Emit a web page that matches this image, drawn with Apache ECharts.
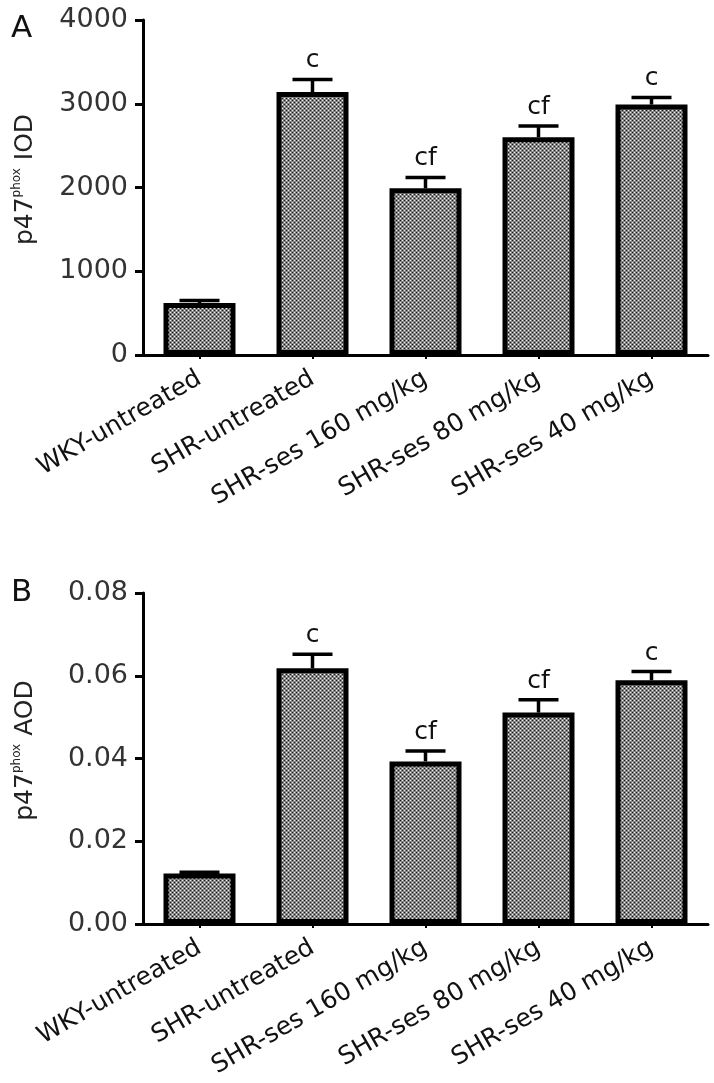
<!DOCTYPE html>
<html>
<head>
<meta charset="utf-8">
<script src="https://cdn.jsdelivr.net/npm/echarts@6/dist/echarts.min.js"></script>
<style>
  html, body { margin: 0; padding: 0; background: #fff; }
  #chart { width: 714px; height: 1083px; }
</style>
</head>
<body>
<div id="chart"></div>
<script>
  const categories = ['WKY-untreated', 'SHR-untreated', 'SHR-ses 160 mg/kg', 'SHR-ses 80 mg/kg', 'SHR-ses 40 mg/kg'];

  // panel A: p47phox IOD
  const iodMean = [620, 3140, 1990, 2600, 2990];
  const iodErr = [30, 150, 130, 135, 85];
  const iodTicks = [0, 1000, 2000, 3000, 4000];

  // panel B: p47phox AOD
  const aodMean = [0.0122, 0.0618, 0.0393, 0.0511, 0.0589];
  const aodErr = [0.0003, 0.0034, 0.0025, 0.0031, 0.0021];
  const aodTicks = [0, 0.02, 0.04, 0.06, 0.08];

  // significance letters
  const sigLetters = ['', 'c', 'cf', 'cf', 'c'];

  const FONT = 'DejaVu Sans';

  // dotted grey fill like the original hatch
  function makePattern() {
    const c = document.createElement('canvas');
    c.width = 4;
    c.height = 4;
    const ctx = c.getContext('2d');
    ctx.fillStyle = '#858585';
    ctx.fillRect(0, 0, 4, 4);
    ctx.fillStyle = '#1a1a1a';
    ctx.fillRect(0, 0, 1, 1);
    ctx.fillRect(2, 2, 1, 1);
    ctx.fillStyle = '#f2f2f2';
    ctx.fillRect(2, 0, 1, 1);
    ctx.fillRect(0, 2, 1, 1);
    return c;
  }
  const pattern = { image: makePattern(), repeat: 'repeat' };

  function errorRender(means, errs) {
    return function (params, api) {
      const i = api.value(0);
      const base = api.coord([i, means[i]]);
      const top = api.coord([i, means[i] + errs[i]]);
      const half = 20;
      const children = [{
        type: 'line',
        shape: { x1: base[0], y1: base[1], x2: top[0], y2: top[1] },
        style: { stroke: '#000', lineWidth: 3.5 }
      }, {
        type: 'line',
        shape: { x1: top[0] - half, y1: top[1], x2: top[0] + half, y2: top[1] },
        style: { stroke: '#000', lineWidth: 3.5 }
      }];
      if (sigLetters[i]) {
        children.push({
          type: 'text',
          style: {
            text: sigLetters[i],
            x: top[0],
            y: top[1] - 6,
            align: 'center',
            verticalAlign: 'bottom',
            font: '25px "' + FONT + '"',
            fill: '#111'
          }
        });
      }
      return { type: 'group', children };
    };
  }

  function yAxisName(label) {
    return {
      name: '{n|p47}{s|phox}{n| ' + label + '}',
      nameLocation: 'middle',
      nameRotate: 90,
      nameGap: 104,
      nameTextStyle: {
        padding: [0, 0, 0, 16],
        rich: {
          n: { fontFamily: FONT, fontSize: 25, color: '#222', lineHeight: 28 },
          s: { fontFamily: FONT, fontSize: 12, color: '#222', lineHeight: 28, verticalAlign: 'top' }
        }
      }
    };
  }

  const axisLine = { show: true, lineStyle: { color: '#000', width: 3 } };

  function xAxis(gridIndex) {
    return {
      type: 'category',
      gridIndex,
      data: categories,
      axisLine,
      axisTick: { show: true, alignWithLabel: true, length: 4, lineStyle: { color: '#000', width: 2 } },
      axisLabel: { interval: 0, rotate: 30, margin: 22, fontFamily: FONT, fontSize: 25, color: '#111' }
    };
  }

  function yAxis(gridIndex, ticks, fmt) {
    return Object.assign({
      type: 'value',
      gridIndex,
      min: ticks[0],
      max: ticks[ticks.length - 1],
      interval: ticks[1] - ticks[0],
      axisLine,
      axisTick: { show: true, length: 8, lineStyle: { color: '#000', width: 3 } },
      axisLabel: { margin: 15, fontFamily: FONT, fontSize: 27, color: '#333', formatter: fmt },
      splitLine: { show: false }
    }, yAxisName(gridIndex === 0 ? 'IOD' : 'AOD'));
  }

  const chart = echarts.init(document.getElementById('chart'));

  chart.setOption({
    backgroundColor: '#fff',
    animation: false,
    title: [
      { text: 'A', left: 6, top: 8, textStyle: { fontFamily: FONT, fontSize: 31, fontWeight: 'normal', color: '#111' } },
      { text: 'B', left: 6, top: 572, textStyle: { fontFamily: FONT, fontSize: 31, fontWeight: 'normal', color: '#111' } }
    ],
    grid: [
      { left: 143, top: 20, width: 565, height: 335 },
      { left: 143, top: 593, width: 565, height: 331 }
    ],
    xAxis: [xAxis(0), xAxis(1)],
    yAxis: [
      yAxis(0, iodTicks, v => String(v)),
      yAxis(1, aodTicks, v => v.toFixed(2))
    ],
    series: [{
      type: 'custom',
      xAxisIndex: 0,
      yAxisIndex: 0,
      data: categories.map((c, i) => [i]),
      renderItem: errorRender(iodMean, iodErr),
      z: 1
    }, {
      type: 'bar',
      xAxisIndex: 0,
      yAxisIndex: 0,
      data: iodMean,
      barWidth: 72,
      itemStyle: { color: pattern, borderColor: '#000', borderWidth: 5 },
      z: 2
    }, {
      type: 'custom',
      xAxisIndex: 1,
      yAxisIndex: 1,
      data: categories.map((c, i) => [i]),
      renderItem: errorRender(aodMean, aodErr),
      z: 1
    }, {
      type: 'bar',
      xAxisIndex: 1,
      yAxisIndex: 1,
      data: aodMean,
      barWidth: 72,
      itemStyle: { color: pattern, borderColor: '#000', borderWidth: 5 },
      z: 2
    }]
  });
</script>
</body>
</html>
